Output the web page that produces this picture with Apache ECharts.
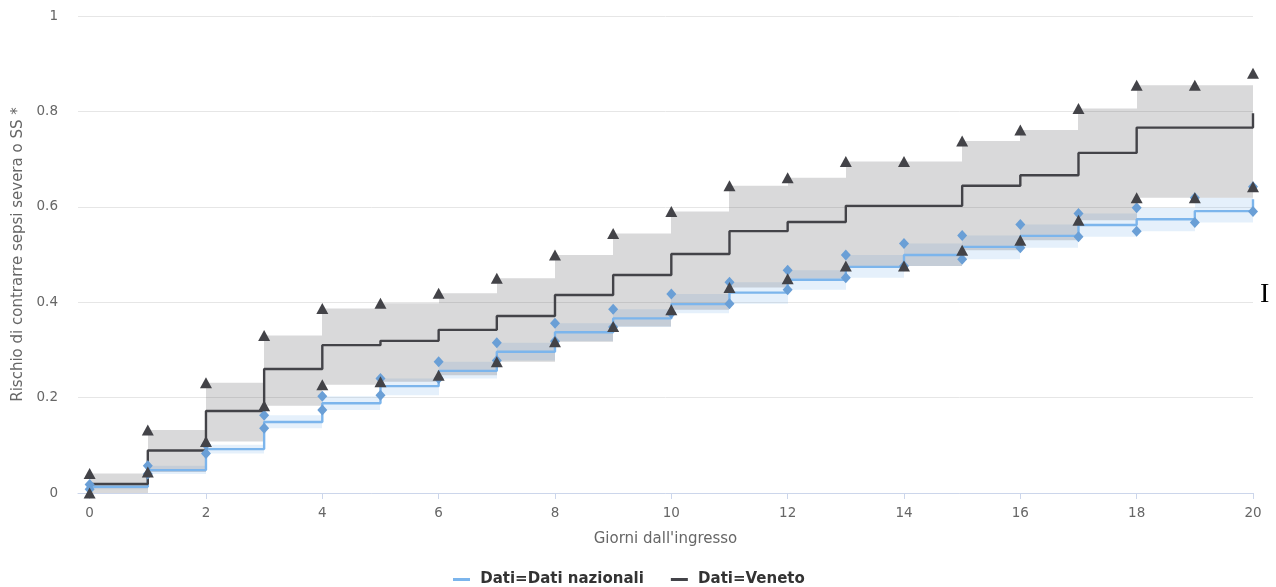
<!DOCTYPE html>
<html>
<head>
<meta charset="utf-8">
<script src="https://cdn.jsdelivr.net/npm/echarts@6/dist/echarts.min.js"></script>
<style>
html,body{margin:0;padding:0;background:#fff;}
#chart{width:1276px;height:587px;}
</style>
</head>
<body>
<div id="chart"></div>
<script>
const days = [0,1,2,3,4,5,6,7,8,9,10,11,12,13,14,15,16,17,18,19,20];
const xTicks = [0,2,4,6,8,10,12,14,16,18,20];
const yTicks = [0,0.2,0.4,0.6,0.8,1];

const nazEst   = [0.013,0.048,0.092,0.149,0.188,0.224,0.256,0.296,0.337,0.366,0.396,0.420,0.447,0.474,0.499,0.516,0.539,0.562,0.574,0.591,0.616];
const nazUpper = [0.018,0.057,0.101,0.163,0.203,0.240,0.275,0.315,0.356,0.385,0.417,0.442,0.467,0.499,0.523,0.540,0.563,0.586,0.598,0.619,0.642];
const nazLower = [0.008,0.040,0.083,0.136,0.174,0.205,0.240,0.278,0.318,0.348,0.377,0.397,0.426,0.451,0.476,0.490,0.514,0.537,0.549,0.567,0.590];

const venEst   = [0.019,0.089,0.172,0.260,0.310,0.319,0.342,0.371,0.415,0.457,0.501,0.549,0.568,0.602,0.602,0.644,0.666,0.713,0.766,0.766,0.796];
const venUpper = [0.041,0.132,0.231,0.330,0.387,0.398,0.419,0.450,0.499,0.544,0.590,0.644,0.661,0.695,0.695,0.738,0.761,0.806,0.855,0.855,0.880];
const venLower = [0.000,0.044,0.108,0.183,0.227,0.233,0.247,0.275,0.317,0.349,0.384,0.431,0.449,0.476,0.476,0.509,0.530,0.572,0.619,0.619,0.642];

const nameNaz = 'Dati=Dati nazionali';
const nameVen = 'Dati=Veneto';
const colNaz = '#7cb5ec';
const colVen = '#434348';

const pairs = (arr) => days.map((d, i) => [d, arr[i]]);
// step intervals [day_i, day_{i+1}] with the band of day_i
const steps = (lo, up) => days.slice(0, -1).map((d, i) => [d, days[i + 1], lo[i], up[i]]);

const FONT = 'DejaVu Sans';

function bandRender(fill) {
  return function (params, api) {
    const a = api.coord([api.value(0), api.value(3)]);
    const b = api.coord([api.value(1), api.value(2)]);
    const x0 = Math.round(a[0]), x1 = Math.round(b[0]);
    return {
      type: 'rect',
      shape: {x: x0, y: a[1], width: x1 - x0, height: b[1] - a[1]},
      style: {fill: fill},
      silent: true
    };
  };
}

const chart = echarts.init(document.getElementById('chart'), null, {renderer: 'canvas'});
chart.setOption({
  animation: false,
  grid: {left: 78, right: 23, top: 16, bottom: 94, containLabel: false},
  xAxis: {
    type: 'value', min: -0.2, max: 20,
    name: "Giorni dall'ingresso", nameLocation: 'middle', nameGap: 39,
    nameTextStyle: {color: '#666666', fontSize: 15, fontFamily: FONT},
    axisLine: {show: true, lineStyle: {color: '#ccd6eb', width: 1}},
    axisTick: {show: true, length: 6, lineStyle: {color: '#ccd6eb'}, customValues: xTicks},
    axisLabel: {color: '#666666', fontSize: 13.5, fontFamily: FONT, margin: 13, customValues: xTicks},
    splitLine: {show: false}
  },
  yAxis: {
    type: 'value', min: 0, max: 1, interval: 0.2,
    name: 'Rischio di contrarre sepsi severa o SS *', nameLocation: 'middle', nameGap: 47,
    nameTextStyle: {color: '#666666', fontSize: 15, fontFamily: FONT},
    axisLine: {show: false}, axisTick: {show: false},
    axisLabel: {color: '#666666', fontSize: 13.5, fontFamily: FONT, margin: 20,
      formatter: (v) => { const t = yTicks.find(k => Math.abs(k - v) < 1e-9); return String(t !== undefined ? t : v); }},
    splitLine: {show: true, lineStyle: {color: '#e6e6e6', width: 1}}
  },
  legend: {
    data: [nameNaz, nameVen],
    left: 448, top: 567, padding: 5,
    icon: 'rect', itemWidth: 17, itemHeight: 3, itemGap: 27,
    formatter: (n) => ' ' + n,
    textStyle: {color: '#333333', fontSize: 15, fontWeight: 'bold', fontFamily: FONT}
  },
  series: [
    {type: 'custom', name: 'nazBand', data: steps(nazLower, nazUpper),
     encode: {x: [0, 1], y: [2, 3]}, renderItem: bandRender('rgba(124,181,236,0.2)'), silent: true, z: 1},
    {type: 'custom', name: 'venBand', data: steps(venLower, venUpper),
     encode: {x: [0, 1], y: [2, 3]}, renderItem: bandRender('rgba(67,67,72,0.2)'), silent: true, z: 1},
    {type: 'line', name: nameNaz, step: 'end', data: pairs(nazEst), symbol: 'none', z: 2,
     itemStyle: {color: colNaz}, lineStyle: {color: colNaz, width: 2.4}},
    {type: 'line', name: nameVen, step: 'end', data: pairs(venEst), symbol: 'none', z: 2,
     itemStyle: {color: colVen}, lineStyle: {color: colVen, width: 2.4}},
    {type: 'scatter', name: 'nazCI', data: pairs(nazUpper).concat(pairs(nazLower)), z: 3,
     symbol: 'diamond', symbolSize: [10, 11], itemStyle: {color: '#6a9fd6', opacity: 1}, silent: true},
    {type: 'scatter', name: 'venCI', data: pairs(venUpper).concat(pairs(venLower)), z: 4,
     symbol: 'triangle', symbolSize: [12, 11], itemStyle: {color: colVen, opacity: 1}, silent: true}
  ],
  graphic: [
    {type: 'text', left: 1260, top: 281,
     style: {text: 'I', fill: '#000000', font: '28px "Liberation Serif"'}}
  ]
});
</script>
</body>
</html>
